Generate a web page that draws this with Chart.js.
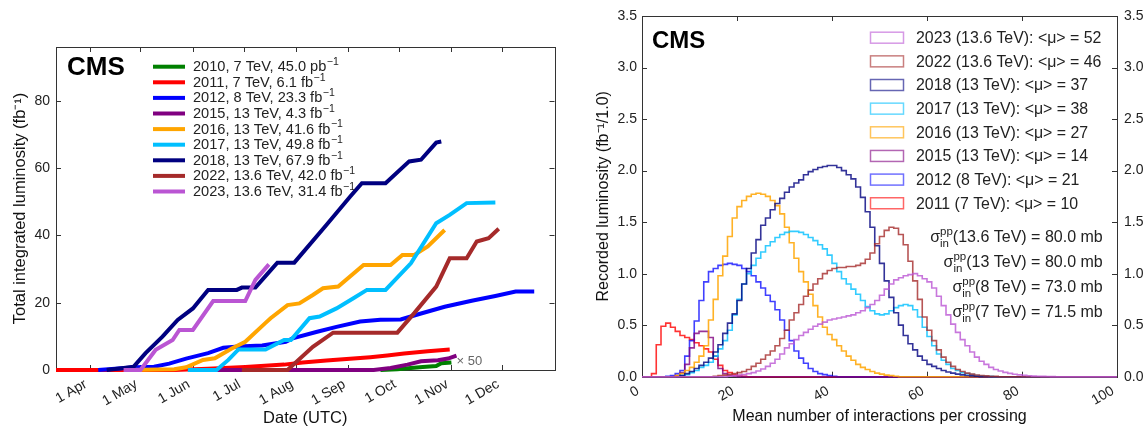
<!DOCTYPE html>
<html>
<head>
<meta charset="utf-8">
<script src="https://cdn.jsdelivr.net/npm/chart.js@4.4.0/dist/chart.umd.min.js"></script>
<style>
  html, body { margin: 0; padding: 0; background: #fff; }
  #wrap { position: relative; width: 1144px; height: 430px; overflow: hidden; }
  #lumi { position: absolute; left: 0; top: 0; }
  #pileup { position: absolute; left: 570px; top: 0; }
</style>
</head>
<body>
<div id="wrap">
  <canvas id="lumi" width="570" height="430"></canvas>
  <canvas id="pileup" width="574" height="430"></canvas>
</div>
<script>
// ---- left panel: integrated luminosity vs date (x = day of year, 0 = 1 Jan) ----
const monthDays = [90, 120, 151, 181, 212, 243, 273, 304, 334];
const monthLabels = ['1 Apr', '1 May', '1 Jun', '1 Jul', '1 Aug', '1 Sep', '1 Oct', '1 Nov', '1 Dec'];
const lumiTicks = [0, 20, 40, 60, 80];

const lumiYears = ['2010', '2011', '2012', '2015', '2016', '2017', '2018', '2022', '2023'];
const lumiEnergy = ['7 TeV', '7 TeV', '8 TeV', '13 TeV', '13 TeV', '13 TeV', '13 TeV', '13.6 TeV', '13.6 TeV'];
const lumiTotal = ['45.0 pb', '6.1 fb', '23.3 fb', '4.3 fb', '41.6 fb', '49.8 fb', '67.9 fb', '42.0 fb', '31.4 fb'];
const lumiColors = ['#008000', '#ff0000', '#0000ff', '#800080', '#ffa500', '#00bfff', '#000080', '#a52a2a', '#ba55d3'];

const lumi2010 = [[262, 0], [272, 0.2], [280, 0.6], [287, 0.9], [295, 1.2], [298, 2.0], [304, 2.25]];
const lumi2011 = [[70, 0], [140, 0], [160, 0.4], [182, 0.9], [205, 1.6], [216, 2.2], [230, 2.8], [246, 3.4],
  [256, 3.8], [266, 4.3], [276, 4.9], [290, 5.6], [303, 6.1]];
const lumi2012 = [[95, 0], [105, 0.4], [117, 0.8], [128, 1.0], [137, 1.9], [147, 3.4], [160, 5.0], [169, 6.6],
  [178, 7.0], [192, 7.3], [206, 8.4], [210, 9.4], [224, 11.3], [236, 12.8], [250, 14.4], [262, 14.9],
  [274, 15.0], [286, 16.8], [300, 18.8], [316, 20.6], [330, 22.0], [342, 23.3], [353, 23.3]];
const lumi2015 = [[155, 0], [258, 0], [268, 0.6], [278, 1.6], [286, 2.6], [296, 2.9], [302, 3.4], [307, 4.3]];
const lumi2016 = [[113, 0], [140, 0.2], [147, 0.8], [157, 3.0], [164, 3.5], [174, 6.4], [182, 8.4], [194, 14.0],
  [197, 15.4], [207, 19.3], [214, 19.8], [222, 22.3], [228, 24.3], [237, 24.8], [252, 31.2], [268, 31.2],
  [275, 34.2], [282, 34.2], [290, 36.7], [300, 41.6]];
const lumi2017 = [[148, 0], [165, 0], [172, 3.0], [178, 6.1], [194, 6.1], [205, 8.9], [209, 8.9], [220, 15.4],
  [226, 15.9], [236, 18.3], [246, 21.3], [254, 23.8], [265, 23.8], [280, 31.7], [295, 43.6], [303, 46.1],
  [313, 49.6], [330, 49.8]];
const lumi2018 = [[100, 0], [110, 0.6], [116, 1.0], [123, 5.0], [133, 9.9], [142, 14.9], [151, 18.3], [160, 23.8],
  [177, 23.8], [180, 24.5], [188, 24.5], [195, 28.5], [201, 31.9], [211, 31.9], [230, 43.1], [244, 51.5],
  [251, 55.5], [265, 55.5], [279, 62.0], [286, 62.5], [295, 67.6], [298, 67.9]];
const lumi2022 = [[180, 0], [207, 0], [222, 6.9], [234, 11.1], [272, 11.1], [282, 16.9], [295, 24.8], [303, 33.2],
  [313, 33.2], [319, 38.2], [326, 39.2], [332, 42.0]];
const lumi2023 = [[110, 0], [120, 0], [129, 6.0], [139, 8.9], [143, 11.9], [151, 11.9], [163, 20.5], [182, 20.5],
  [188, 26.8], [196, 31.4]];
const lumiSeries = [lumi2010, lumi2011, lumi2012, lumi2015, lumi2016, lumi2017, lumi2018, lumi2022, lumi2023];

// ---- right panel: pileup histograms, bin i covers [i, i+1) ----
const puTicksX = [0, 20, 40, 60, 80, 100];
const puTicksY = [0, 0.5, 1.0, 1.5, 2.0, 2.5, 3.0, 3.5];

const h2011 = [0, 0, 0.03, 0.31, 0.49, 0.52, 0.48, 0.44, 0.40, 0.38, 0.36, 0.33, 0.30, 0.27, 0.24, 0.17, 0.11,
  0.06, 0.04, 0.02, 0.01, 0.005];
const h2012 = [0, 0, 0, 0, 0, 0.005, 0.01, 0.03, 0.06, 0.2, 0.35, 0.54, 0.74, 0.92, 1.02, 1.05, 1.08, 1.09, 1.10,
  1.09, 1.08, 1.05, 1.02, 0.98, 0.92, 0.86, 0.79, 0.73, 0.65, 0.55, 0.45, 0.35, 0.25, 0.18, 0.13, 0.08, 0.05,
  0.03, 0.02, 0.01, 0.005];
const h2015 = [0, 0, 0, 0, 0, 0, 0, 0.01, 0.04, 0.12, 0.28, 0.42, 0.44, 0.44, 0.38, 0.2, 0.08, 0.03, 0.01, 0.005];
const h2016 = [0, 0, 0, 0, 0, 0, 0, 0.01, 0.03, 0.06, 0.09, 0.14, 0.2, 0.3, 0.55, 0.75, 0.98, 1.17, 1.36, 1.54,
  1.65, 1.71, 1.75, 1.77, 1.78, 1.77, 1.75, 1.71, 1.66, 1.58, 1.45, 1.3, 1.15, 1.02, 0.92, 0.8, 0.69, 0.58,
  0.48, 0.41, 0.36, 0.3, 0.25, 0.2, 0.16, 0.12, 0.09, 0.07, 0.05, 0.035, 0.025, 0.015, 0.01, 0.005];
const h2017 = [0, 0, 0, 0, 0, 0, 0, 0, 0.01, 0.02, 0.04, 0.06, 0.09, 0.11, 0.14, 0.2, 0.27, 0.35, 0.45, 0.6,
  0.75, 0.9, 1.0, 1.08, 1.15, 1.21, 1.27, 1.31, 1.35, 1.38, 1.4, 1.41, 1.41, 1.4, 1.38, 1.35, 1.32, 1.28, 1.24,
  1.18, 1.1, 1.02, 0.95, 0.9, 0.85, 0.8, 0.74, 0.68, 0.64, 0.61, 0.6, 0.61, 0.64, 0.67, 0.69, 0.7, 0.69, 0.65,
  0.58, 0.48, 0.39, 0.3, 0.22, 0.16, 0.12, 0.08, 0.06, 0.04, 0.03, 0.02, 0.012, 0.008, 0.005, 0.003];
const h2018 = [0, 0, 0, 0, 0, 0, 0, 0, 0.01, 0.03, 0.05, 0.08, 0.11, 0.14, 0.18, 0.24, 0.31, 0.42, 0.52, 0.61,
  0.74, 0.9, 1.05, 1.2, 1.33, 1.47, 1.54, 1.62, 1.68, 1.73, 1.79, 1.84, 1.88, 1.91, 1.96, 1.99, 2.01, 2.03, 2.04,
  2.05, 2.05, 2.03, 2.0, 1.96, 1.92, 1.84, 1.74, 1.6, 1.45, 1.27, 1.1, 0.93, 0.77, 0.62, 0.5, 0.4, 0.32, 0.26,
  0.2, 0.16, 0.12, 0.1, 0.08, 0.06, 0.045, 0.035, 0.025, 0.018, 0.012, 0.008, 0.005];
const h2022 = [0, 0, 0, 0, 0, 0, 0, 0, 0, 0, 0, 0, 0, 0, 0, 0.005, 0.01, 0.015, 0.02, 0.03, 0.04, 0.05, 0.07, 0.1,
  0.13, 0.17, 0.21, 0.25, 0.3, 0.37, 0.45, 0.55, 0.62, 0.7, 0.78, 0.84, 0.9, 0.95, 1.0, 1.03, 1.05, 1.06, 1.06,
  1.07, 1.07, 1.08, 1.1, 1.14, 1.2, 1.29, 1.36, 1.42, 1.45, 1.44, 1.38, 1.28, 1.12, 0.93, 0.75, 0.58, 0.45,
  0.35, 0.26, 0.19, 0.14, 0.1, 0.07, 0.05, 0.035, 0.025, 0.017, 0.012, 0.008, 0.005, 0.003];
const h2023 = [0, 0, 0, 0, 0, 0, 0, 0, 0, 0, 0, 0, 0, 0, 0, 0, 0, 0, 0.005, 0.01, 0.015, 0.02, 0.03, 0.04, 0.055,
  0.075, 0.1, 0.13, 0.17, 0.22, 0.28, 0.32, 0.36, 0.4, 0.43, 0.46, 0.49, 0.51, 0.53, 0.55, 0.56, 0.57, 0.58,
  0.59, 0.6, 0.62, 0.64, 0.67, 0.7, 0.74, 0.79, 0.85, 0.9, 0.94, 0.96, 0.98, 0.99, 1.0, 0.98, 0.95, 0.92, 0.86,
  0.78, 0.69, 0.6, 0.51, 0.43, 0.36, 0.3, 0.24, 0.19, 0.15, 0.12, 0.09, 0.07, 0.055, 0.042, 0.032, 0.024, 0.018,
  0.013, 0.009, 0.006, 0.004, 0.003, 0.002, 0.001];

const puYears = ['2011', '2012', '2015', '2016', '2017', '2018', '2022', '2023'];
const puEnergy = ['7 TeV', '8 TeV', '13 TeV', '13 TeV', '13 TeV', '13 TeV', '13.6 TeV', '13.6 TeV'];
const puMean = [10, 21, 14, 27, 38, 37, 46, 52];
const puHist = [h2011, h2012, h2015, h2016, h2017, h2018, h2022, h2023];
const puColors = ['rgba(255,0,0,0.8)', 'rgba(0,0,255,0.75)', 'rgba(128,0,128,0.8)', 'rgba(255,165,0,0.85)',
  'rgba(0,191,255,0.8)', 'rgba(0,0,128,0.8)', 'rgba(165,42,42,0.8)', 'rgba(186,85,211,0.8)'];

const xsecEnergy = ['13.6 TeV', '13 TeV', '8 TeV', '7 TeV'];
const xsecValue = ['80.0', '80.0', '73.0', '71.5'];

const FONT = "'Liberation Sans', Arial, sans-serif";
Chart.defaults.font.family = FONT;
Chart.defaults.color = '#222';

// inward tick marks on all four sides plus the box
function drawFrame(chart, xVals, yVals) {
  const { ctx, chartArea: a } = chart;
  const xs = chart.scales.x, ys = chart.scales.y;
  ctx.save();
  ctx.strokeStyle = '#333';
  ctx.lineWidth = 1;
  ctx.beginPath();
  xVals.forEach(v => {
    const px = Math.round(xs.getPixelForValue(v)) + 0.5;
    ctx.moveTo(px, a.bottom); ctx.lineTo(px, a.bottom - 5);
    ctx.moveTo(px, a.top); ctx.lineTo(px, a.top + 5);
  });
  yVals.forEach(v => {
    const py = Math.round(ys.getPixelForValue(v)) + 0.5;
    ctx.moveTo(a.left, py); ctx.lineTo(a.left + 5, py);
    ctx.moveTo(a.right, py); ctx.lineTo(a.right - 5, py);
  });
  ctx.stroke();
  ctx.strokeRect(Math.round(a.left) + 0.5, Math.round(a.top) + 0.5, Math.round(a.width), Math.round(a.height));
  ctx.restore();
}

const lumiDecor = {
  id: 'lumiDecor',
  beforeDatasetsDraw(chart) { drawFrame(chart, monthDays, lumiTicks); },
  afterDraw(chart) {
    const ctx = chart.ctx;
    ctx.save();
    ctx.textBaseline = 'middle';
    ctx.fillStyle = '#000';
    ctx.font = `bold 26px ${FONT}`;
    ctx.fillText('CMS', 67, 68);

    lumiYears.forEach((yr, i) => {
      const y = 66.7 + 15.6 * i;
      ctx.strokeStyle = lumiColors[i];
      ctx.lineWidth = 4;
      ctx.beginPath(); ctx.moveTo(153, y); ctx.lineTo(185, y); ctx.stroke();
      const txt = `${yr}, ${lumiEnergy[i]}, ${lumiTotal[i]}`;
      ctx.fillStyle = '#222';
      ctx.font = `14.6px ${FONT}`;
      ctx.fillText(txt, 193, y + 0.5);
      const w = ctx.measureText(txt).width;
      ctx.font = `10.5px ${FONT}`;
      ctx.fillText('\u22121', 193 + w + 0.5, y - 4.5);
    });

    // 2010 curve is scaled up
    ctx.fillStyle = '#666';
    ctx.font = `13px ${FONT}`;
    ctx.fillText('\u00d7 50', chart.scales.x.getPixelForValue(307), chart.scales.y.getPixelForValue(2.5));
    ctx.restore();
  }
};

new Chart(document.getElementById('lumi'), {
  type: 'line',
  data: {
    datasets: lumiSeries.map((s, i) => ({
      label: lumiYears[i],
      data: s.map(p => ({ x: p[0], y: p[1] })),
      borderColor: lumiColors[i],
      borderWidth: 4,
      pointRadius: 0,
      tension: 0,
      fill: false,
      clip: false,
      order: lumiSeries.length - i
    }))
  },
  options: {
    responsive: false,
    animation: false,
    events: [],
    layout: { padding: { left: 0, top: 47, right: 15.5, bottom: 0 } },
    plugins: { legend: { display: false }, tooltip: { enabled: false } },
    scales: {
      x: {
        type: 'linear', min: 70, max: 365,
        afterBuildTicks: s => { s.ticks = monthDays.map(v => ({ value: v })); },
        afterFit: s => { s.height = 60; },
        grid: { display: false, drawTicks: false },
        border: { display: false },
        ticks: {
          autoSkip: false, minRotation: 30, maxRotation: 30, padding: 6, labelOffset: -4,
          font: { size: 14 }, color: '#222',
          callback: v => monthLabels[monthDays.indexOf(v)]
        },
        title: { display: true, text: 'Date (UTC)', font: { size: 16.5 }, color: '#111', padding: { top: 0, bottom: 2 } }
      },
      y: {
        type: 'linear', min: 0, max: 96,
        afterBuildTicks: s => { s.ticks = lumiTicks.map(v => ({ value: v })); },
        afterFit: s => { s.width = 56; },
        grid: { display: false, drawTicks: false },
        border: { display: false },
        ticks: { padding: 6, font: { size: 14 }, color: '#222' },
        title: {
          display: true, text: 'Total integrated luminosity (fb\u207b\u00b9)', font: { size: 16.5 }, color: '#111',
          padding: { top: 11, bottom: 0 }
        }
      }
    }
  },
  plugins: [lumiDecor]
});

const puDecor = {
  id: 'puDecor',
  beforeDatasetsDraw(chart) { drawFrame(chart, puTicksX, puTicksY); },
  afterDraw(chart) {
    const ctx = chart.ctx;
    ctx.save();
    ctx.textBaseline = 'middle';
    ctx.fillStyle = '#000';
    ctx.font = `bold 24px ${FONT}`;
    ctx.fillText('CMS', 82, 41);

    // legend, newest first
    for (let k = 0; k < puYears.length; k++) {
      const i = puYears.length - 1 - k;
      const y = 37.7 + 23.65 * k;
      ctx.strokeStyle = puColors[i];
      ctx.globalAlpha = 0.75;
      ctx.lineWidth = 1.5;
      ctx.strokeRect(300.5, y - 5.5, 33, 11);
      ctx.globalAlpha = 1;
      ctx.fillStyle = '#222';
      ctx.font = `15.9px ${FONT}`;
      ctx.fillText(`${puYears[i]} (${puEnergy[i]}): <\u03bc> = ${puMean[i]}`, 346, y + 1);
    }

    // inelastic cross sections, right aligned
    ctx.textBaseline = 'alphabetic';
    const right = 532.7;
    xsecEnergy.forEach((e, j) => {
      const base = 242 + 25 * j;
      const rest = `(${e}) = ${xsecValue[j]} mb`;
      ctx.font = `16px ${FONT}`;
      const wRest = ctx.measureText(rest).width;
      const wSig = ctx.measureText('\u03c3').width;
      ctx.font = `11.5px ${FONT}`;
      const wSup = Math.max(ctx.measureText('pp').width, ctx.measureText('in').width);
      let x = right - wRest - wSup - wSig;
      ctx.fillStyle = '#222';
      ctx.font = `16px ${FONT}`;
      ctx.fillText('\u03c3', x, base);
      x += wSig;
      ctx.font = `11.5px ${FONT}`;
      ctx.fillText('pp', x, base - 7);
      ctx.fillText('in', x, base + 4.5);
      x += wSup;
      ctx.font = `16px ${FONT}`;
      ctx.fillText(rest, x, base);
    });
    ctx.restore();
  }
};

const edges = Array.from({ length: 101 }, (_, i) => i);

new Chart(document.getElementById('pileup'), {
  type: 'line',
  data: {
    datasets: puHist.map((h, i) => ({
      label: puYears[i],
      data: edges.map(e => ({ x: e, y: h[e] || 0 })),
      stepped: true,
      borderColor: puColors[i],
      borderWidth: 1.6,
      pointRadius: 0,
      fill: false,
      clip: false,
      order: puHist.length - i
    }))
  },
  options: {
    responsive: false,
    animation: false,
    events: [],
    layout: { padding: { left: 0, top: 16, right: 0, bottom: 0 } },
    plugins: { legend: { display: false }, tooltip: { enabled: false } },
    scales: {
      x: {
        type: 'linear', min: 0, max: 100,
        afterBuildTicks: s => { s.ticks = puTicksX.map(v => ({ value: v })); },
        afterFit: s => { s.height = 53.3; },
        grid: { display: false, drawTicks: false },
        border: { display: false },
        ticks: { autoSkip: false, minRotation: 30, maxRotation: 30, padding: 6, labelOffset: -4, font: { size: 14 }, color: '#222' },
        title: {
          display: true, text: 'Mean number of interactions per crossing', font: { size: 16 }, color: '#111',
          padding: { top: 0, bottom: 3.4 }
        }
      },
      y: {
        type: 'linear', min: 0, max: 3.5,
        afterBuildTicks: s => { s.ticks = puTicksY.map(v => ({ value: v })); },
        afterFit: s => { s.width = 72; },
        grid: { display: false, drawTicks: false },
        border: { display: false },
        ticks: { padding: 5, font: { size: 14 }, color: '#222', callback: v => v.toFixed(1) },
        title: {
          display: true, text: 'Recorded luminosity (fb\u207b\u00b9/1.0)', font: { size: 16 }, color: '#111',
          padding: { top: 24.4, bottom: 0 }
        }
      },
      y2: {
        type: 'linear', position: 'right', min: 0, max: 3.5,
        afterBuildTicks: s => { s.ticks = puTicksY.map(v => ({ value: v })); },
        afterFit: s => { s.width = 27; },
        grid: { display: false, drawTicks: false },
        border: { display: false },
        ticks: { padding: 7, font: { size: 14 }, color: '#222', callback: v => v.toFixed(1) }
      }
    }
  },
  plugins: [puDecor]
});
</script>
</body>
</html>
